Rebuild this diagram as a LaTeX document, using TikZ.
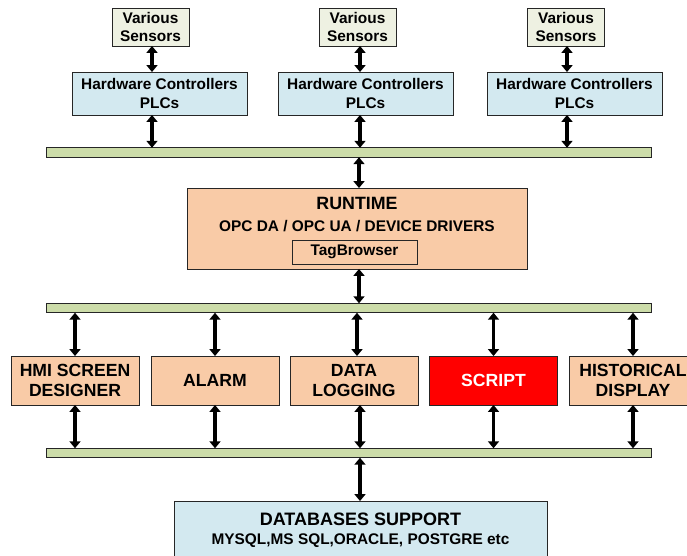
\documentclass[tikz,border=0pt]{standalone}
\usepackage{fontspec}
\setmainfont{Liberation Sans}
\usetikzlibrary{arrows.meta}
\definecolor{sensorfill}{HTML}{EEF1E2}
\definecolor{hwfill}{HTML}{D3E9F0}
\definecolor{busfill}{HTML}{CCDCA9}
\definecolor{peach}{HTML}{F9CBA7}
\definecolor{scriptred}{HTML}{FF0000}
\definecolor{edge}{HTML}{262626}
\tikzset{
  box/.style={draw=edge, line width=0.9pt, rectangle, inner sep=0pt, align=center, font=\bfseries},
  smalltxt/.style={font=\fontsize{15.4}{18.5}\selectfont\bfseries},
  bigtxt/.style={font=\fontsize{17.6}{20.5}\selectfont\bfseries},
  sensor/.style={box, fill=sensorfill, minimum width=77pt, minimum height=38pt, smalltxt},
  hw/.style={box, fill=hwfill, minimum width=175pt, minimum height=43pt, smalltxt},
  bus/.style={draw=edge, line width=0.9pt, fill=busfill, rectangle, inner sep=0pt, minimum width=605pt, minimum height=9.5pt},
  module/.style={box, fill=peach, minimum width=128pt, minimum height=49pt, bigtxt},
  link/.style={line width=3.6pt, {Triangle[length=7pt,width=11pt]}-{Triangle[length=7pt,width=11pt]}, shorten <=-0.5pt, shorten >=-0.5pt},
  plain/.style={inner sep=0pt}
}
\begin{document}
\begin{tikzpicture}[x=1pt,y=-1pt]
\useasboundingbox (0,0) rectangle (687,556);
% sensors
\node[sensor] (s1) at (150.5,27) {Various\\Sensors};
\node[sensor] (s2) at (357.5,27) {Various\\Sensors};
\node[sensor] (s3) at (566,27) {Various\\Sensors};
% hardware controllers
\node[hw] (h1) at (159.5,93.5) {Hardware Controllers\\PLCs};
\node[hw] (h2) at (365.5,93.5) {Hardware Controllers\\PLCs};
\node[hw] (h3) at (574.5,93.5) {Hardware Controllers\\PLCs};
% buses
\node[bus] (b1) at (348.5,152.5) {};
\node[bus] (b2) at (348.5,308) {};
\node[bus] (b3) at (348.5,453) {};
% runtime
\node[box, fill=peach, minimum width=340pt, minimum height=81pt] (rt) at (357,228.5) {};
\node[plain, font=\fontsize{17.8}{20}\selectfont\bfseries] (rtt) at (357,203) {RUNTIME};
\node[plain, smalltxt] (opc) at (357,226) {OPC DA / OPC UA / DEVICE DRIVERS};
\node[box, fill=peach, minimum width=125pt, minimum height=24pt, smalltxt] (tag) at (354.5,252) {TagBrowser};
% modules
\node[module] (hmi) at (75,380.5) {HMI SCREEN\\DESIGNER};
\node[module] (alarm) at (215,380.5) {ALARM};
\node[module] (data) at (354,380.5) {DATA\\LOGGING};
\node[module, fill=scriptred, text=white] (script) at (493.5,380.5) {SCRIPT};
\node[module] (hist) at (633,380.5) {HISTORICAL\\DISPLAY};
% database
\node[box, fill=hwfill, minimum width=373pt, minimum height=80pt] (db) at (360.5,541) {};
\node[plain, font=\fontsize{18}{20}\selectfont\bfseries] (dbt) at (360.5,519) {DATABASES SUPPORT};
\node[plain, smalltxt] (dbs) at (360.5,541) {MYSQL,MS SQL,ORACLE, POSTGRE etc};
% coordinates for arrow columns
\coordinate (c1) at (152,0);
\coordinate (c2) at (360,0);
\coordinate (c3) at (567,0);
\coordinate (cr) at (359,0);
\coordinate (m3) at (357,0);
\coordinate (m3b) at (360,0);
% connectors
\draw[link] (s1.south -| c1) -- (h1.north -| c1);
\draw[link] (s2.south -| c2) -- (h2.north -| c2);
\draw[link] (s3.south -| c3) -- (h3.north -| c3);
\draw[link] (h1.south -| c1) -- (b1.north -| c1);
\draw[link] (h2.south -| c2) -- (b1.north -| c2);
\draw[link] (h3.south -| c3) -- (b1.north -| c3);
\draw[link] (b1.south -| cr) -- (rt.north -| cr);
\draw[link] (rt.south -| cr) -- (b2.north -| cr);
\draw[link] (b2.south -| hmi) -- (hmi.north);
\draw[link] (b2.south -| alarm) -- (alarm.north);
\draw[link] (b2.south -| m3) -- (data.north -| m3);
\draw[link] (b2.south -| script) -- (script.north);
\draw[link] (b2.south -| hist) -- (hist.north);
\draw[link] (hmi.south) -- (b3.north -| hmi);
\draw[link] (alarm.south) -- (b3.north -| alarm);
\draw[link] (data.south -| m3b) -- (b3.north -| m3b);
\draw[link] (script.south) -- (b3.north -| script);
\draw[link] (hist.south) -- (b3.north -| hist);
\draw[link] (b3.south -| m3b) -- (db.north -| m3b);
\end{tikzpicture}
\end{document}
